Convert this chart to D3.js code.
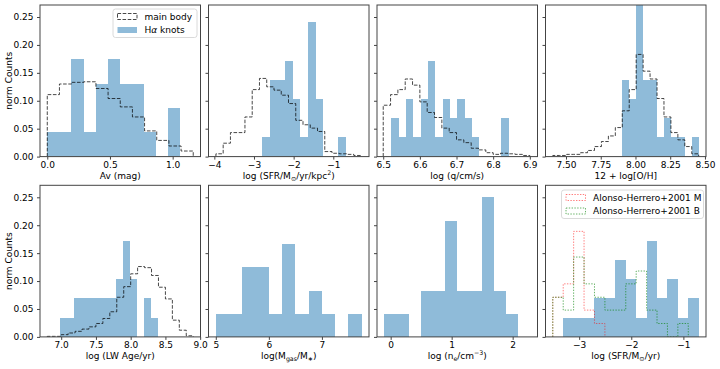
<!DOCTYPE html>
<meta charset="utf-8">
<html>
<head>
<style>
  body { margin: 0; background: #fff; }
  svg text { font-family: "DejaVu Sans", sans-serif; fill: #000; }
  .tick text { font-size: 9px; }
  .domain { display: none; }
  .tick line { stroke: #444; }
  .frame { fill: none; stroke: #444; stroke-width: 1; }
</style>
</head>
<body>
<svg id="chart" width="720" height="369"></svg>
<script src="https://d3js.org/d3.v7.min.js"></script>
<script>
// ---- data (norm counts per bin; each histogram spans [lo, hi] with equal bins) ----
const yTicks = [0, 0.05, 0.10, 0.15, 0.20, 0.25];

// Av (mag)
const avBody = [0.111, 0.130, 0.133, 0.134, 0.122, 0.104, 0.089, 0.071, 0.046, 0.029, 0.019, 0.010];
const avBodyRange = [0, 1.164];
const avKnots = [0.0435, 0.0435, 0.174, 0.0435, 0.130, 0.174, 0.130, 0.130, 0.0435, 0, 0.087];
const avKnotsRange = [0, 1.06];
const avTicks = [0, 0.5, 1.0];

// log SFR surface density
const sfrdBody = [0.005, 0.024, 0.043, 0.043, 0.071, 0.120, 0.140, 0.125, 0.119, 0.110,
                  0.095, 0.065, 0.057, 0.051, 0.045, 0.009, 0.006, 0.005, 0.004, 0.002];
const sfrdBodyRange = [-3.96, -0.30];
const sfrdKnots = [0.0345, 0.138, 0.138, 0.172, 0.103, 0.0345, 0.241, 0.103, 0, 0, 0.0345];
const sfrdKnotsRange = [-2.80, -0.677];
const sfrdTicks = [-4, -3, -2, -1];

// log q
const qBody = [0.092, 0.111, 0.120, 0.139, 0.128, 0.098, 0.079, 0.070, 0.051, 0.043,
               0.030, 0.025, 0.015, 0.012, 0.007, 0.004, 0.006, 0.005, 0.004, 0.002];
const qBodyRange = [6.5, 6.9];
const qKnots = [0.069, 0.0345, 0.103, 0.0345, 0.103, 0.172, 0.0345, 0.103,
                0.069, 0.103, 0.069, 0.0345, 0, 0, 0, 0.069];
const qKnotsRange = [6.522, 6.842];
const qTicks = [6.5, 6.6, 6.7, 6.8, 6.9];

// 12 + log O/H
const ohBody = [0.002, 0.002, 0.004, 0.004, 0.007, 0.011, 0.018, 0.027, 0.037, 0.052, 0.082,
                0.120, 0.183, 0.153, 0.139, 0.104, 0.071, 0.043, 0.030, 0.018, 0.005];
const ohBodyRange = [7.405, 8.455];
const ohKnots = [0.138, 0.103, 0.276, 0.138, 0.138, 0.0345, 0.069, 0.0345, 0.0345, 0, 0.0345];
const ohKnotsRange = [7.905, 8.455];
const ohTicks = [7.5, 7.75, 8.0, 8.25, 8.5];

// log LW age
const ageBody = [0.001, 0.001, 0.004, 0.007, 0.010, 0.014, 0.018, 0.024, 0.033, 0.045, 0.071,
                 0.090, 0.113, 0.126, 0.124, 0.110, 0.089, 0.068, 0.030, 0.012, 0.002];
const ageBodyRange = [6.8, 8.9];
const ageKnots = [0.0345, 0.0345, 0.069, 0.069, 0.069, 0.069, 0.069, 0.069, 0.103, 0.172, 0.103, 0, 0.069, 0.0345];
const ageKnotsRange = [6.99, 8.39];
const ageTicks = [7.0, 7.5, 8.0, 8.5, 9.0];

// log Mgas/M*
const mgasKnots = [0.0417, 0.0417, 0.125, 0.125, 0.0417, 0.167, 0.0417, 0.083, 0.0417, 0, 0.0417];
const mgasKnotsRange = [5.0, 7.75];
const mgasTicks = [5, 6, 7];

// log ne
const neKnots = [0.0417, 0.0417, 0, 0.083, 0.083, 0.208, 0.083, 0.083, 0.25, 0.083, 0.0417];
const neKnotsRange = [-0.104, 2.087];
const neTicks = [0, 1, 2];

// log SFR
const sfrKnots = [0.0345, 0.0345, 0.0345, 0.069, 0.069, 0.138, 0.103, 0.0345, 0.172, 0.069, 0.103, 0.0345, 0.069];
const sfrKnotsRange = [-3.306, -0.706];
const ahM = [0.071, 0.095, 0.189, 0.048, 0.024];
const ahMRange = [-3.506, -2.506];
const ahB = [0.071, 0.048, 0.143, 0.095, 0.071, 0.048, 0.048, 0.095, 0.118, 0.048, 0.024, 0, 0.024];
const ahBRange = [-3.506, -0.906];
const sfrTicks = [-3, -2, -1];

// ---- layout ----
const colX = [40, 208.5, 377, 545.5], pw = 160.5;
const rowY = [5, 185.3], ph = 151.6;
const yMax = 0.2715;

const blue = "#8fbbd9";
const styles = {
  body: { stroke: "#000", opacity: 0.72, dash: "3.6,1.6" },
  ahM:  { stroke: "#ff0000", opacity: 0.5, dash: "1.4,1.4" },
  ahB:  { stroke: "#008000", opacity: 0.6, dash: "1.4,1.4" }
};

const panels = [
  { r: 0, c: 0, domain: [-0.058, 1.222], ticks: avTicks, fmt: ".1f",
    label: [["Av (mag)"]],
    knots: [avKnots, avKnotsRange], lines: [["body", avBody, avBodyRange]] },
  { r: 0, c: 1, domain: [-4.147, -0.10], ticks: sfrdTicks, fmt: "d",
    label: [["log (SFR/M"], ["⊙", "sub"], ["/yr/kpc"], ["2", "sup"], [")"]],
    knots: [sfrdKnots, sfrdKnotsRange], lines: [["body", sfrdBody, sfrdBodyRange]] },
  { r: 0, c: 2, domain: [6.483, 6.921], ticks: qTicks, fmt: ".1f",
    label: [["log  (q/cm/s)"]],
    knots: [qKnots, qKnotsRange], lines: [["body", qBody, qBodyRange]] },
  { r: 0, c: 3, domain: [7.3525, 8.5075], ticks: ohTicks, fmt: ".2f",
    label: [["12 + log[O/H]"]],
    knots: [ohKnots, ohKnotsRange], lines: [["body", ohBody, ohBodyRange]] },
  { r: 1, c: 0, domain: [6.695, 9.005], ticks: ageTicks, fmt: ".1f",
    label: [["log  (LW Age/yr)"]],
    knots: [ageKnots, ageKnotsRange], lines: [["body", ageBody, ageBodyRange]] },
  { r: 1, c: 1, domain: [4.8625, 7.8875], ticks: mgasTicks, fmt: "d",
    label: [["log(M"], ["gas", "sub"], ["/M"], ["∗", "sub"], [")"]],
    knots: [mgasKnots, mgasKnotsRange], lines: [] },
  { r: 1, c: 2, domain: [-0.224, 2.407], ticks: neTicks, fmt: "d",
    label: [["log  (n"], ["e", "sub"], ["/cm"], ["−3", "sup"], [")"]],
    knots: [neKnots, neKnotsRange], lines: [] },
  { r: 1, c: 3, domain: [-3.646, -0.566], ticks: sfrTicks, fmt: "d",
    label: [["log (SFR/M"], ["⊙", "sub"], ["/yr)"]],
    knots: [sfrKnots, sfrKnotsRange], lines: [["ahM", ahM, ahMRange], ["ahB", ahB, ahBRange]] }
];

const svg = d3.select("#chart");

function stepPoints(values, range) {
  const n = values.length, w = (range[1] - range[0]) / n;
  const pts = [[range[0], 0]];
  values.forEach((v, i) => {
    pts.push([range[0] + i * w, v]);
    pts.push([range[0] + (i + 1) * w, v]);
  });
  pts.push([range[1], 0]);
  return pts;
}

function richText(sel, parts, size) {
  parts.forEach(p => {
    const t = sel.append("tspan").text(p[0]);
    if (p[1] === "sub") t.attr("font-size", size * 0.7).attr("dy", 2.2);
    else if (p[1] === "sup") t.attr("font-size", size * 0.7).attr("dy", -3.6);
    else t.attr("font-size", size);
  });
  // reset baseline offsets
  let off = 0;
  sel.selectAll("tspan").each(function (d, i) {
    const p = parts[i];
    const t = d3.select(this);
    if (!p[1]) { if (off) t.attr("dy", -off); off = 0; }
    else if (p[1] === "sub") { t.attr("dy", 2.2 - off); off = 2.2; }
    else { t.attr("dy", -3.6 - off); off = -3.6; }
  });
}

panels.forEach((p, k) => {
  const x0 = colX[p.c], y0 = rowY[p.r];
  const g = svg.append("g").attr("transform", `translate(${x0},${y0})`);
  const x = d3.scaleLinear().domain(p.domain).range([0, pw]);
  const y = d3.scaleLinear().domain([0, yMax]).range([ph, 0]);

  g.append("clipPath").attr("id", "clip" + k)
    .append("rect").attr("width", pw).attr("height", ph);
  const plot = g.append("g").attr("clip-path", `url(#clip${k})`);

  // knots: filled bars
  const [kv, kr] = p.knots;
  const bw = (kr[1] - kr[0]) / kv.length;
  plot.selectAll("rect.bar").data(kv.map((v, i) => ({ v, a: kr[0] + i * bw, b: kr[0] + (i + 1) * bw })))
    .join("rect").attr("class", "bar")
    .filter(d => d.v > 0)
    .attr("x", d => x(d.a)).attr("width", d => x(d.b) - x(d.a))
    .attr("y", d => y(d.v)).attr("height", d => y(0) - y(d.v))
    .attr("fill", blue).attr("shape-rendering", "crispEdges");

  // step outlines
  const line = d3.line().x(d => x(d[0])).y(d => y(d[1]));
  p.lines.forEach(([kind, vals, range]) => {
    const s = styles[kind];
    plot.append("path").attr("d", line(stepPoints(vals, range)))
      .attr("fill", "none").attr("stroke", s.stroke).attr("stroke-opacity", s.opacity)
      .attr("stroke-width", 1).attr("stroke-dasharray", s.dash);
  });

  // axes
  g.append("g").attr("transform", `translate(0,${ph})`)
    .call(d3.axisBottom(x).tickValues(p.ticks).tickFormat(d3.format(p.fmt)).tickSize(3).tickPadding(2));
  const ya = d3.axisLeft(y).tickValues(yTicks).tickSize(3).tickPadding(3.5);
  if (p.c === 0) ya.tickFormat(d3.format(".2f")); else ya.tickFormat("");
  g.append("g").call(ya);

  g.append("rect").attr("class", "frame").attr("width", pw).attr("height", ph);

  // x label
  const xl = g.append("text").attr("x", pw / 2).attr("y", ph + 22).attr("text-anchor", "middle");
  richText(xl, p.label, 9);

  if (p.c === 0) {
    g.append("text").attr("transform", `translate(${-31},${ph / 2}) rotate(-90)`)
      .attr("text-anchor", "middle").attr("dominant-baseline", "central")
      .attr("font-size", 9).text("norm Counts");
  }
});

// ---- legends ----
function legend(gx, gy, w, items) {
  const lg = svg.append("g").attr("transform", `translate(${gx},${gy})`);
  lg.append("rect").attr("width", w).attr("height", 28.5).attr("rx", 2.5)
    .attr("fill", "#fff").attr("fill-opacity", 0.8).attr("stroke", "#d0d0d0").attr("stroke-width", 0.8);
  items.forEach((it, i) => {
    const cy = 7.5 + i * 13.5;
    const r = lg.append("rect").attr("x", 4.5).attr("y", cy - 3).attr("width", 19.5).attr("height", 6);
    if (it.kind === "knots") r.attr("fill", blue);
    else {
      const s = styles[it.kind];
      r.attr("fill", "none").attr("stroke", s.stroke).attr("stroke-opacity", s.opacity)
        .attr("stroke-width", 1).attr("stroke-dasharray", s.dash);
    }
    const t = lg.append("text").attr("x", 31.5).attr("y", cy).attr("dominant-baseline", "central").attr("font-size", 9);
    if (it.kind === "knots") {
      t.append("tspan").text("H");
      t.append("tspan").attr("font-style", "italic").text("α");
      t.append("tspan").text(" knots");
    } else t.text(it.text);
  });
}
legend(113, 9, 84, [{ kind: "body", text: "main body" }, { kind: "knots" }]);
legend(561.5, 190, 142, [{ kind: "ahM", text: "Alonso-Herrero+2001 M" }, { kind: "ahB", text: "Alonso-Herrero+2001 B" }]);
</script>
</body>
</html>
